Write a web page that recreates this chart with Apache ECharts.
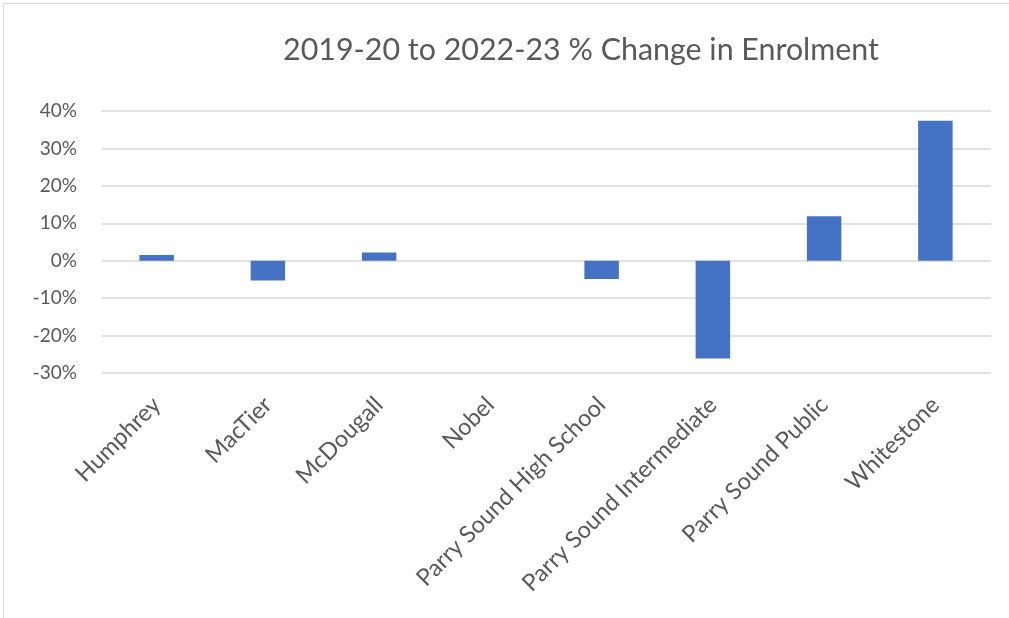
<!DOCTYPE html>
<html><head><meta charset="utf-8">
<script src="https://cdn.jsdelivr.net/npm/echarts@6/dist/echarts.min.js"></script>
<style>
html,body{margin:0;padding:0;background:#fff;}
#c{position:absolute;left:3px;top:3px;width:1010px;height:620px;border:1px solid #d9d9d9;box-sizing:border-box;}
</style></head>
<body><div id="c"></div>
<script>
const titleText = '2019-20 to 2022-23 % Change in Enrolment';
const categories = ['Humphrey','MacTier','McDougall','Nobel','Parry Sound High School','Parry Sound Intermediate','Parry Sound Public','Whitestone'];
const changePct = [1.5, -5.3, 2.2, 0, -4.9, -26.1, 11.9, 37.4];
const yMin = -30, yMax = 40, yStep = 10;

const chart = echarts.init(document.getElementById('c'));
chart.setOption({
  animation:false,
  title:{text:titleText,left:274,top:26,
    textStyle:{fontFamily:'Lato',fontWeight:'normal',fontSize:30.4,color:'#595959'}},
  grid:{left:97,right:21,top:107,bottom:249,containLabel:false},
  xAxis:{type:'category',data:categories,
    axisLine:{show:false},axisTick:{show:false},
    axisLabel:{rotate:45,interval:0,margin:28,color:'#595959',fontFamily:'Lato',fontSize:23.5}},
  yAxis:{type:'value',min:yMin,max:yMax,interval:yStep,
    axisLine:{show:false},axisTick:{show:false},
    axisLabel:{formatter:'{value}%',margin:24,color:'#595959',fontFamily:'Lato',fontSize:19}},
  series:[{type:'bar',data:changePct,barWidth:'31%',
    itemStyle:{color:'#4472c4'}}]
});
chart.setOption({yAxis:{splitLine:{lineStyle:{color:'#d9d9d9',width:1.5}}}});
</script></body></html>
